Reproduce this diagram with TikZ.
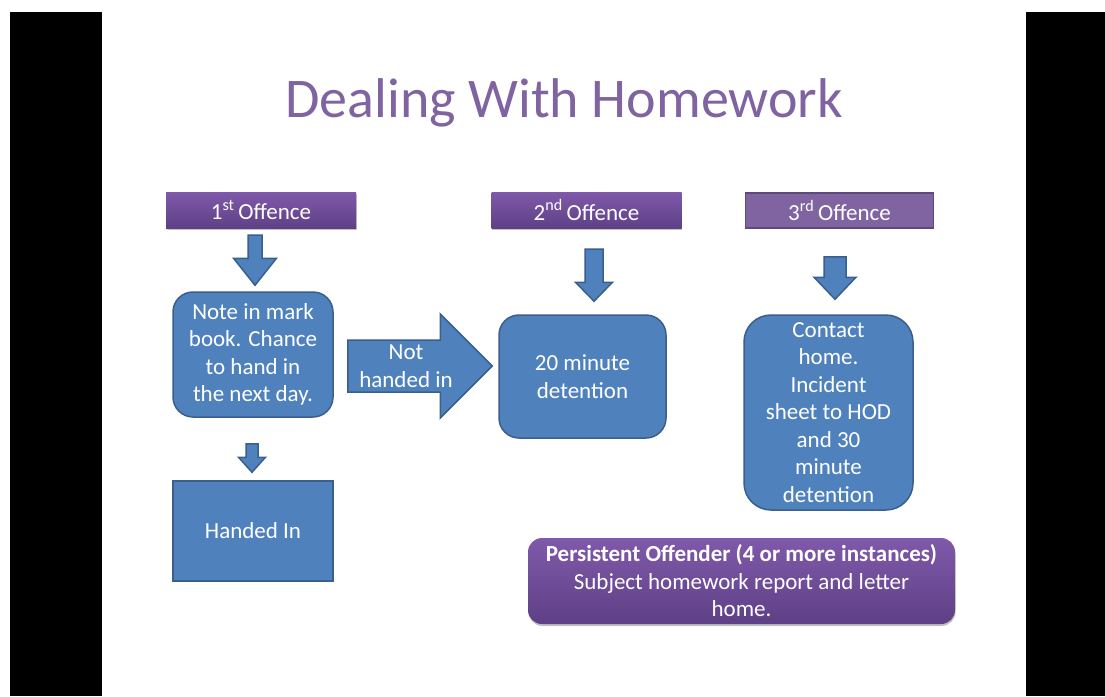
\documentclass[tikz,border=0pt]{standalone}
\usepackage{fontspec}
\setmainfont{Carlito}
\usetikzlibrary{calc,shadows}
\definecolor{boxblue}{HTML}{4F81BD}
\definecolor{boxline}{HTML}{3A5F8C}
\definecolor{titlepurple}{HTML}{8064A2}
\definecolor{purpletop}{HTML}{8059AA}
\definecolor{purplebot}{HTML}{5E4086}
\definecolor{purpleflat}{HTML}{8064A2}
\definecolor{purpleline}{HTML}{5C4A7B}
\tikzset{
  bluebox/.style={draw=boxline, line width=1.5pt, fill=boxblue, text=white,
    align=center, inner sep=0pt, font=\fontsize{23}{27.5}\selectfont},
  roundbox/.style={bluebox, rounded corners=#1},
  offence/.style={text=white, inner sep=0pt, minimum width=190pt, minimum height=36pt,
    font=\fontsize{23}{26}\selectfont},
  shadedbox/.style={shade, top color=purpletop, bottom color=purplebot,
    drop shadow={shadow xshift=0.5pt, shadow yshift=-2pt, opacity=0.35, fill=black!70}},
  blockarrow/.style={draw=boxline, line width=1.5pt, fill=boxblue, line join=miter},
}
% top, tip, shaft half width, head half width, head length
\newcommand\downblock[5]{%
  \draw[blockarrow] let \p1=#1, \p2=#2 in
    (\x1-#3pt,\y1) -- (\x1+#3pt,\y1) -- (\x1+#3pt,\y2+#5pt) -- (\x1+#4pt,\y2+#5pt)
    -- (\x1,\y2) -- (\x1-#4pt,\y2+#5pt) -- (\x1-#3pt,\y2+#5pt) -- cycle;}
\newcommand\rightblock[5]{%
  \draw[blockarrow] let \p1=#1, \p2=#2 in
    (\x1,\y1+#3pt) -- (\x2-#5pt,\y1+#3pt) -- (\x2-#5pt,\y1+#4pt) -- (\x2,\y1)
    -- (\x2-#5pt,\y1-#4pt) -- (\x2-#5pt,\y1-#3pt) -- (\x1,\y1-#3pt) -- cycle;}
\begin{document}
\begin{tikzpicture}[x=1pt, y=-1pt]
  \useasboundingbox (0,0) rectangle (1105,696);
  \fill[white] (0,0) rectangle (1105,696);
  \fill[black] (10,12) rectangle (102,696);
  \fill[black] (1026,12) rectangle (1105,696);

  \node[anchor=base, text=titlepurple, font=\fontsize{56}{60}\selectfont]
    (title) at (564,117) {Dealing With Homework};

  \node[offence, shadedbox] (off1) at (261,210) {1\textsuperscript{st}\,Offence};
  \node[offence, shadedbox] (off2) at (586.5,210) {2\textsuperscript{nd}\,Offence};
  \node[offence, fill=purpleflat, draw=purpleline, line width=1.5pt,
    minimum width=188pt, minimum height=35pt] (off3) at (839.5,210.5) {3\textsuperscript{rd}\,Offence};

  \node[roundbox=20pt, minimum width=160pt, minimum height=125pt] (note) at (253,354.5)
    {Note in mark\\book. Chance\\to hand in\\the next day.};
  \node[bluebox, minimum width=160pt, minimum height=100pt] (handed) at (253,531) {Handed In};
  \node[roundbox=20pt, minimum width=167pt, minimum height=123pt] (detention) at (582.5,376.5)
    {20 minute\\detention};
  \node[roundbox=27pt, minimum width=169pt, minimum height=195pt] (contact) at (828.5,412.5)
    {Contact\\home.\\Incident\\sheet to HOD\\and 30\\minute\\detention};
  \node[shadedbox, rounded corners=14pt, text=white, align=center, inner sep=0pt,
    minimum width=427pt, minimum height=86pt, font=\fontsize{23}{27.5}\selectfont]
    (persist) at (741.5,581)
    {\textbf{Persistent Offender (4 or more instances)}\\Subject homework report and letter\\home.};

  \downblock{($(off1.south)+(-6,7)$)}{($(note.north)+(0,-6)$)}{7}{21.5}{27}
  \downblock{($(off2.south)+(7.5,21)$)}{($(detention.north)+(0,-13)$)}{9}{18.5}{19}
  \downblock{($(off3.south)+(-4.5,28)$)}{($(contact.north)+(0,-15)$)}{11}{21}{22}
  \downblock{($(note.south)+(-1,26)$)}{($(handed.north)+(0,-8)$)}{6}{13.5}{15}
  \rightblock{($(note.east)+(14,11.5)$)}{($(detention.west)+(-6,0)$)}{26}{52}{52}
  \node[text=white, align=center, font=\fontsize{23}{27.5}\selectfont]
    (nothanded) at (406,366) {Not\\handed in};
\end{tikzpicture}
\end{document}
